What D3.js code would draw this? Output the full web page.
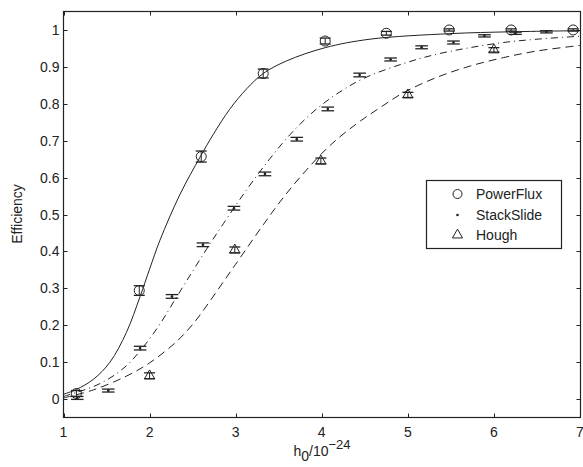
<!DOCTYPE html>
<html><head><meta charset="utf-8">
<script src="https://cdn.jsdelivr.net/npm/d3@7"></script>
<style>body{margin:0;background:#fff}svg{display:block}text{font-family:"Liberation Sans",Arial,sans-serif;fill:#222}</style>
</head><body><svg id="c" width="583" height="467"></svg>
<script>
// ---- data ----
const xTicks = [1,2,3,4,5,6,7];
const yTicks = [0,0.1,0.2,0.3,0.4,0.5,0.6,0.7,0.8,0.9,1];
const yTickLabels = ["0","0.1","0.2","0.3","0.4","0.5","0.6","0.7","0.8","0.9","1"];

const powerX   = [1.15,1.88,2.60,3.32,4.04,4.75,5.48,6.20,6.92];
const powerY   = [0.015,0.294,0.657,0.882,0.970,0.991,1.000,1.000,1.000];
const powerErr = [0.008,0.013,0.015,0.012,0.008,0.005,0.003,0.003,0.003];

const stackX   = [1.16,1.52,1.89,2.26,2.62,2.98,3.34,3.71,4.07,4.44,4.80,5.16,5.53,5.89,6.25,6.61];
const stackY   = [0.003,0.023,0.138,0.278,0.418,0.517,0.610,0.704,0.786,0.878,0.920,0.953,0.966,0.984,0.991,0.995];
const stackErr = [0.004,0.004,0.005,0.005,0.005,0.005,0.005,0.005,0.005,0.005,0.004,0.004,0.004,0.003,0.003,0.003];

const houghX   = [2.0,2.99,3.99,5.0,6.0];
const houghY   = [0.063,0.404,0.645,0.824,0.946];
const houghErr = [0.008,0.008,0.008,0.007,0.006];

// fitted curves
const fitPowerX = [1.0,1.15,1.35,1.54,1.73,1.89,2.0,2.12,2.35,2.59,2.74,2.93,3.13,3.32,3.59,4.04,4.56,5.49,6.19,7.0];
const fitPowerY = [0.013,0.026,0.054,0.100,0.180,0.278,0.352,0.430,0.553,0.657,0.717,0.785,0.841,0.882,0.916,0.952,0.975,0.990,0.995,0.998];
const fitStackX = [1.0,1.15,1.35,1.54,1.73,1.93,2.12,2.31,2.51,2.70,2.86,3.13,3.40,3.63,3.90,4.17,4.48,4.95,5.33,5.72,6.11,6.50,7.0];
const fitStackY = [0.007,0.018,0.034,0.057,0.090,0.142,0.203,0.275,0.350,0.420,0.476,0.568,0.652,0.716,0.778,0.826,0.868,0.909,0.934,0.952,0.966,0.975,0.983];
const fitHoughX = [1.0,1.35,1.73,2.0,2.31,2.51,2.70,2.90,3.05,3.32,3.55,3.82,4.10,4.40,4.68,4.95,5.33,5.72,6.11,6.50,7.0];
const fitHoughY = [0.003,0.025,0.062,0.098,0.155,0.205,0.265,0.332,0.382,0.472,0.545,0.620,0.688,0.745,0.790,0.830,0.871,0.902,0.925,0.943,0.958];

const legendNames = ["PowerFlux","StackSlide","Hough"];

// ---- drawing ----
const svg = d3.select("#c");
const L = 63.5, R = 580.5, T = 11.5, B = 417.5;
const x = d3.scaleLinear().domain([1,7]).range([L,R-0.5]);
const y = d3.scaleLinear().domain([-0.05,1.05]).range([B,T]);
const ink = "#222";

const g = svg.append("g");
const tl = 4;
xTicks.forEach(v=>{
  const px = Math.round(x(v))+0.5;
  g.append("line").attr("x1",px).attr("x2",px).attr("y1",B).attr("y2",B-tl).attr("stroke",ink);
  g.append("line").attr("x1",px).attr("x2",px).attr("y1",T).attr("y2",T+tl).attr("stroke",ink);
  g.append("text").attr("x",x(v)).attr("y",B+19).attr("text-anchor","middle").attr("font-size",14).text(v);
});
yTicks.forEach((v,i)=>{
  const py = Math.round(y(v))+0.5;
  g.append("line").attr("x1",L).attr("x2",L+tl).attr("y1",py).attr("y2",py).attr("stroke",ink);
  g.append("line").attr("x1",R).attr("x2",R-tl).attr("y1",py).attr("y2",py).attr("stroke",ink);
  g.append("text").attr("x",L-4).attr("y",y(v)+5).attr("text-anchor","end").attr("font-size",14).text(yTickLabels[i]);
});
g.append("rect").attr("x",L).attr("y",T).attr("width",R-L).attr("height",B-T)
  .attr("fill","none").attr("stroke",ink).attr("stroke-width",1.2);

// curves
const line = d3.line().x(d=>x(d[0])).y(d=>y(d[1])).curve(d3.curveCatmullRom.alpha(0.5));
const pc = svg.append("g");
pc.append("path").attr("d",line(d3.zip(fitPowerX,fitPowerY))).attr("fill","none").attr("stroke",ink).attr("stroke-width",1);
pc.append("path").attr("d",line(d3.zip(fitStackX,fitStackY))).attr("fill","none").attr("stroke",ink).attr("stroke-width",1).attr("stroke-dasharray","7,4,1,4");
pc.append("path").attr("d",line(d3.zip(fitHoughX,fitHoughY))).attr("fill","none").attr("stroke",ink).attr("stroke-width",1).attr("stroke-dasharray","8,5");

function errbar(xs,ys,es,cw){
  xs.forEach((xv,i)=>{
    const px=x(xv), y1=y(ys[i]+es[i]), y2=y(ys[i]-es[i]);
    pc.append("line").attr("x1",px).attr("x2",px).attr("y1",y1).attr("y2",y2).attr("stroke",ink);
    pc.append("line").attr("x1",px-cw).attr("x2",px+cw).attr("y1",y1).attr("y2",y1).attr("stroke",ink).attr("stroke-width",1.3);
    pc.append("line").attr("x1",px-cw).attr("x2",px+cw).attr("y1",y2).attr("y2",y2).attr("stroke",ink).attr("stroke-width",1.3);
  });
}
errbar(powerX,powerY,powerErr,5.5);
errbar(stackX,stackY,stackErr,6.3);
errbar(houghX,houghY,houghErr,5.5);

powerX.forEach((xv,i)=>{
  pc.append("circle").attr("cx",x(xv)).attr("cy",y(powerY[i])).attr("r",5).attr("fill","none").attr("stroke",ink);
});
stackX.forEach((xv,i)=>{
  pc.append("circle").attr("cx",x(xv)).attr("cy",y(stackY[i])).attr("r",1.3).attr("fill",ink);
});
const tri = d3.symbol().type(d3.symbolTriangle).size(45);
houghX.forEach((xv,i)=>{
  pc.append("path").attr("d",tri()).attr("transform",`translate(${x(xv)},${y(houghY[i])})`)
    .attr("fill","none").attr("stroke",ink);
});

// legend
const lg = svg.append("g");
lg.append("rect").attr("x",426.5).attr("y",180.5).attr("width",135).attr("height",68)
  .attr("fill","#fff").attr("stroke",ink).attr("stroke-width",1.2);
const ly = [194,215,235];
lg.append("circle").attr("cx",457.5).attr("cy",ly[0]).attr("r",4.5).attr("fill","none").attr("stroke",ink);
lg.append("circle").attr("cx",457.5).attr("cy",ly[1]).attr("r",1.3).attr("fill",ink);
lg.append("path").attr("d",tri()).attr("transform",`translate(457.5,${ly[2]})`).attr("fill","none").attr("stroke",ink);
legendNames.forEach((n,i)=>{
  lg.append("text").attr("x",476).attr("y",ly[i]+5).attr("font-size",14).text(n);
});

// axis labels
svg.append("text").attr("transform","translate(22,214) rotate(-90)").attr("text-anchor","middle")
  .attr("font-size",14).text("Efficiency");
const xl = svg.append("text").attr("x",322).attr("y",456).attr("text-anchor","middle").attr("font-size",14);
xl.append("tspan").text("h");
xl.append("tspan").attr("dy",5).text("0");
xl.append("tspan").attr("dy",-5).text("/10");
xl.append("tspan").attr("dy",-7).attr("font-size",13).text("\u221224");
</script></body></html>
